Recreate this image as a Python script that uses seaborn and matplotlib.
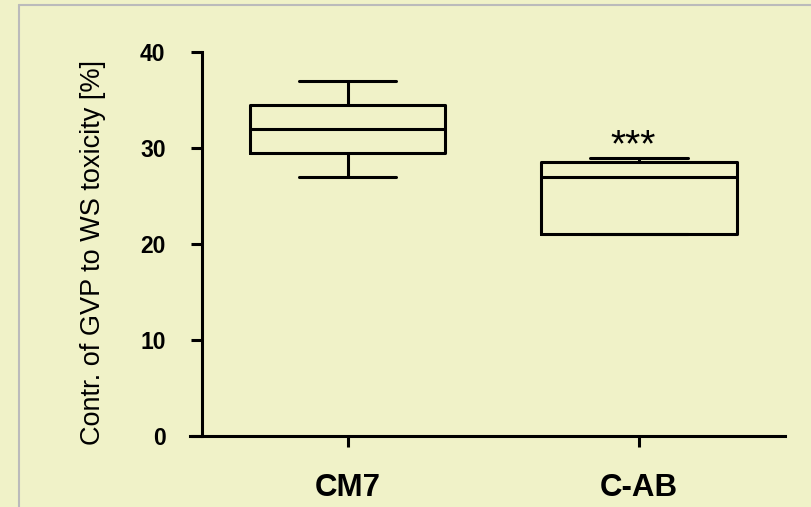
import numpy as np
import pandas as pd
import seaborn as sns
import matplotlib.pyplot as plt
from matplotlib.lines import Line2D

# five-number summaries (min, Q1, median, Q3, max)
groups = ["CM7", "C-AB"]
cm7_vals = [27, 29.5, 32, 34.5, 37]
cab_vals = [21, 21, 27, 28.5, 29]
y_ticks = [0, 10, 20, 30, 40]
y_label = "Contr. of GVP to WS toxicity [%]"
sig_label = "***"

df = pd.DataFrame({
    "group": [groups[0]] * len(cm7_vals) + [groups[1]] * len(cab_vals),
    "value": cm7_vals + cab_vals,
})

sns.set_style("ticks")
plt.rcParams['font.family'] = ['Liberation Sans', 'DejaVu Sans']
plt.rcParams.update({"text.color": "black", "axes.labelcolor": "black",
                     "xtick.color": "black", "ytick.color": "black"})

bg = "#F0F2C8"
fig = plt.figure(figsize=(8.11, 5.07), dpi=100, facecolor=bg)
ax = fig.add_axes([190 / 811, 1 - 436 / 507, 595 / 811, 384 / 507])
ax.set_facecolor("none")

sns.boxplot(data=df, x="group", y="value", order=groups, ax=ax,
            whis=(0, 100), width=0.67, fill=False, color="black",
            linewidth=2.2, showfliers=False)

ax.set_xlim(-0.54, 1.5)
ax.set_ylim(0, 40)
ax.set_yticks(y_ticks)
ax.spines["left"].set_position(("data", -0.5))
ax.spines["right"].set_visible(False)
ax.spines["top"].set_visible(False)
for s in ["left", "bottom"]:
    ax.spines[s].set_linewidth(2.2)
    ax.spines[s].set_color("black")

ax.tick_params(axis="y", length=8, width=2.2, pad=18, labelsize=16.5)
ax.tick_params(axis="x", length=8, width=2.2, pad=19, labelsize=22.5)
for lab in ax.get_xticklabels() + ax.get_yticklabels():
    lab.set_fontweight("bold")

ax.set_xlabel("")
ax.set_ylabel(y_label, fontsize=19.5)
ax.yaxis.set_label_coords(-0.141, 0.477)

ax.text(0.98, 29.1, sig_label, ha="center", va="baseline", fontsize=28)

# thin grey frame of the slide
fig.add_artist(Line2D([19 / 811, 1], [1 - 5 / 507] * 2, color="#BBBBBB", lw=1.5))
fig.add_artist(Line2D([19 / 811] * 2, [0, 1 - 5 / 507], color="#BBBBBB", lw=1.5))

fig.savefig("out.png", dpi=100, facecolor=bg)
